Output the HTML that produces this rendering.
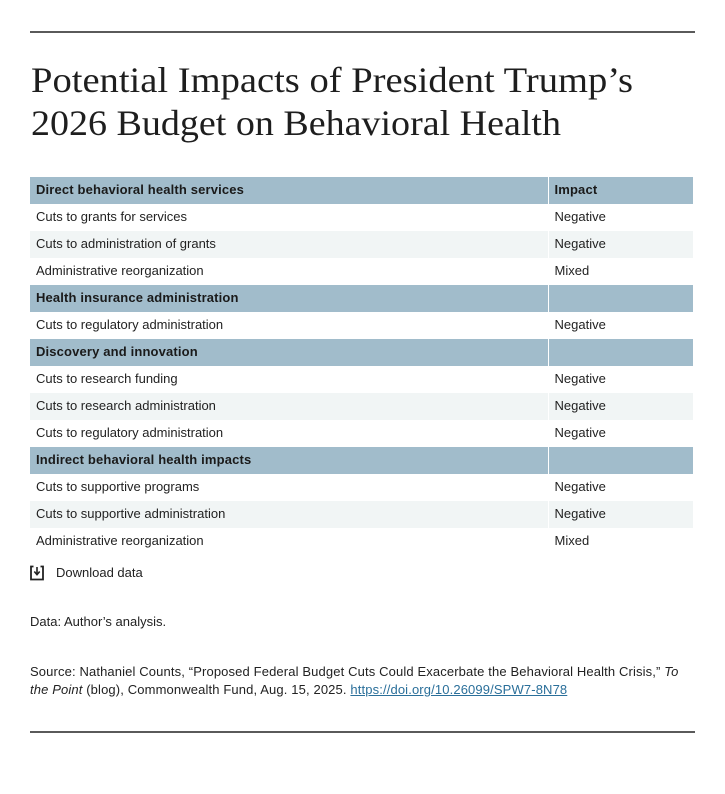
<!DOCTYPE html>
<html>
<head>
<meta charset="utf-8">
<style>
  html, body { margin:0; padding:0; background:#fff; }
  body { width:725px; height:794px; position:relative; overflow:hidden; font-family:"Liberation Sans", Arial, sans-serif; color:#222; }
  .rule { position:absolute; left:30px; width:665px; height:2px; background:#5a5a5a; }
  .title { position:absolute; left:0; top:0; }
  table { position:absolute; left:30px; top:177px; width:663px; border-collapse:collapse; table-layout:fixed; }
  td { height:27px; padding:0 0 1px 6px; font-size:13px; line-height:26px; color:#222; white-space:nowrap; box-sizing:border-box; }
  td.c2 { border-left:1.5px solid #fff; }
  tr.h td { background:#a1bccb; font-weight:bold; color:#1a1a1a; letter-spacing:0.15px; }
  tr.l td { background:#f1f5f5; }
  .dl { position:absolute; left:30px; top:564px; font-size:13px; }
  .dl span { position:absolute; left:26px; top:1px; white-space:nowrap; }
  .note { position:absolute; left:30px; font-size:13px; white-space:nowrap; color:#222; }
  a { color:#2a6f9a; text-decoration:underline; }
</style>
</head>
<body>
<div class="rule" style="top:31px;"></div>

<svg class="title" width="725" height="160" xmlns="http://www.w3.org/2000/svg">
  <text x="31" y="92" font-family="Liberation Serif, serif" font-size="36" fill="#1e1e1e" textLength="602" lengthAdjust="spacingAndGlyphs">Potential Impacts of President Trump’s</text>
  <text x="31" y="135" font-family="Liberation Serif, serif" font-size="36" fill="#1e1e1e" textLength="530" lengthAdjust="spacingAndGlyphs">2026 Budget on Behavioral Health</text>
</svg>

<table>
  <colgroup><col style="width:518px"><col style="width:145px"></colgroup>
  <tr class="h"><td>Direct behavioral health services</td><td class="c2">Impact</td></tr>
  <tr><td>Cuts to grants for services</td><td class="c2">Negative</td></tr>
  <tr class="l"><td>Cuts to administration of grants</td><td class="c2">Negative</td></tr>
  <tr><td>Administrative reorganization</td><td class="c2">Mixed</td></tr>
  <tr class="h"><td>Health insurance administration</td><td class="c2"></td></tr>
  <tr><td>Cuts to regulatory administration</td><td class="c2">Negative</td></tr>
  <tr class="h"><td>Discovery and innovation</td><td class="c2"></td></tr>
  <tr><td>Cuts to research funding</td><td class="c2">Negative</td></tr>
  <tr class="l"><td>Cuts to research administration</td><td class="c2">Negative</td></tr>
  <tr><td>Cuts to regulatory administration</td><td class="c2">Negative</td></tr>
  <tr class="h"><td>Indirect behavioral health impacts</td><td class="c2"></td></tr>
  <tr><td>Cuts to supportive programs</td><td class="c2">Negative</td></tr>
  <tr class="l"><td>Cuts to supportive administration</td><td class="c2">Negative</td></tr>
  <tr><td>Administrative reorganization</td><td class="c2">Mixed</td></tr>
</table>

<div class="dl">
  <svg width="14" height="16" viewBox="0 0 14 16" style="position:absolute;left:0;top:1px;">
    <path d="M3.5 1.5 H1 V14.5 H13 V1.5 H10.5" fill="none" stroke="#222" stroke-width="1.8"/>
    <line x1="7" y1="2" x2="7" y2="9" stroke="#222" stroke-width="1.6"/>
    <path d="M4.3 6.5 L7 9.6 L9.7 6.5" fill="none" stroke="#222" stroke-width="1.6"/>
  </svg>
  <span>Download data</span>
</div>

<div class="note" style="top:614px;">Data: Author’s analysis.</div>

<div class="note" style="top:663px; line-height:18px; letter-spacing:0.13px;">Source: Nathaniel Counts, “Proposed Federal Budget Cuts Could Exacerbate the Behavioral Health Crisis,” <i>To</i><br><i>the Point</i> (blog), Commonwealth Fund, Aug. 15, 2025. <a>https://doi.org/10.26099/SPW7-8N78</a></div>

<div class="rule" style="top:731px;"></div>
</body>
</html>
